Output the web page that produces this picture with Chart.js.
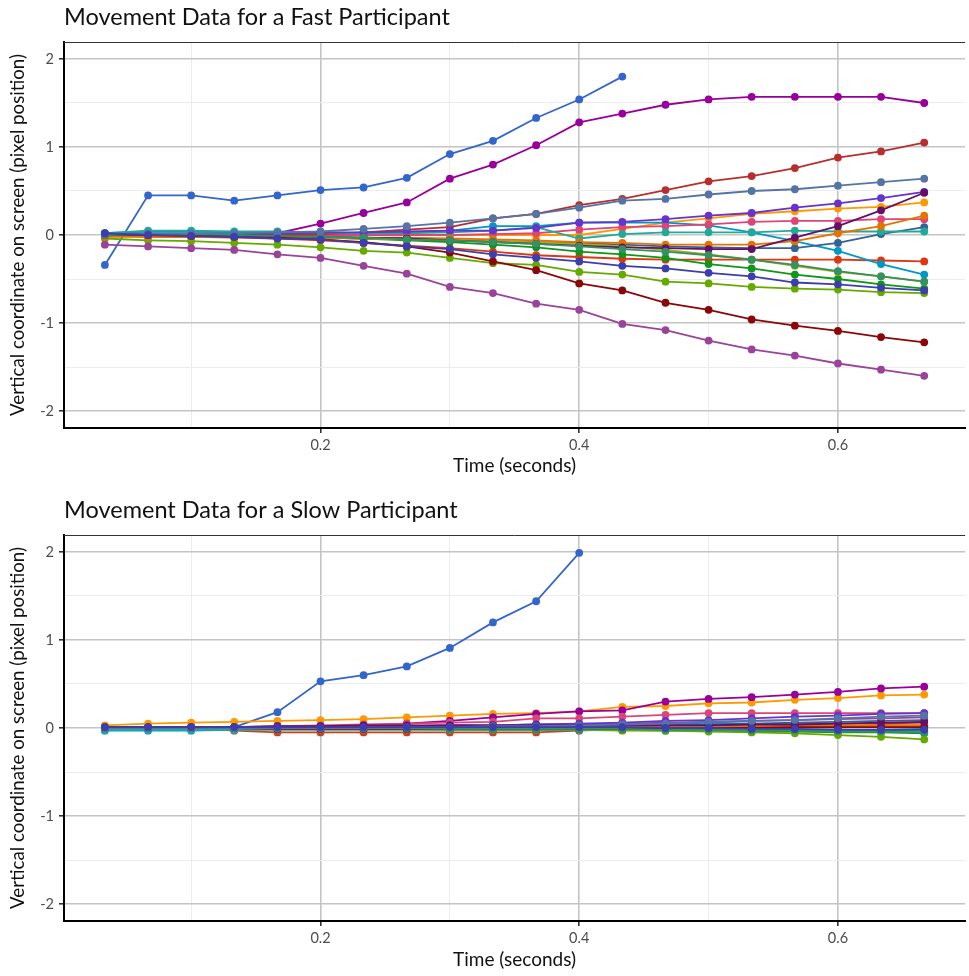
<!DOCTYPE html>
<html>
<head>
<meta charset="utf-8">
<script src="https://cdn.jsdelivr.net/npm/chart.js@4"></script>
<style>
	body { margin: 0; background: #fff; }
	canvas { display: block; }
</style>
</head>
<body>
<canvas id="fastChart" width="969" height="493"></canvas>
<canvas id="slowChart" width="969" height="483"></canvas>
<script>
// time of each frame, seconds (30 fps)
let times = [0.0333, 0.0667, 0.1, 0.1333, 0.1667, 0.2, 0.2333, 0.2667, 0.3, 0.3333,
	0.3667, 0.4, 0.4333, 0.4667, 0.5, 0.5333, 0.5667, 0.6, 0.6333, 0.6667];

let trialColors = ["#3366cc", "#dc3912", "#ff9900", "#109618", "#990099", "#0099c6", "#dd4477",
	"#66aa00", "#b82e2e", "#316395", "#994499", "#22aa99", "#aaaa11", "#6633cc", "#e67300",
	"#8b0707", "#651067", "#329262", "#5574a6", "#3b3eac"];

let xTicks = [0.1, 0.2, 0.3, 0.4, 0.5, 0.6];
let yTicks = [-2, -1.5, -1, -0.5, 0, 0.5, 1, 1.5, 2];

// one row per trial, fast participant
let fastValues = [
	[-0.34, 0.45, 0.45, 0.39, 0.45, 0.51, 0.54, 0.65, 0.92, 1.07, 1.33, 1.54, 1.80],
	[0, -0.02, -0.02, -0.03, -0.04, -0.06, -0.09, -0.12, -0.15, -0.19, -0.23, -0.25, -0.27, -0.28, -0.28, -0.28, -0.28, -0.28, -0.29, -0.30],
	[0.01, 0.01, 0.01, 0.01, 0.01, 0.01, 0, 0, 0, 0, 0, 0, 0.07, 0.14, 0.19, 0.24, 0.27, 0.30, 0.32, 0.37],
	[0, -0.01, -0.01, -0.02, -0.02, -0.03, -0.04, -0.06, -0.08, -0.11, -0.14, -0.19, -0.22, -0.26, -0.33, -0.38, -0.45, -0.50, -0.56, -0.61],
	[0, 0, 0, 0, 0.02, 0.13, 0.25, 0.37, 0.64, 0.80, 1.02, 1.28, 1.38, 1.48, 1.54, 1.57, 1.57, 1.57, 1.57, 1.50],
	[0.02, 0.04, 0.04, 0.03, 0.03, 0.02, 0.02, 0.03, 0.05, 0.10, 0.10, 0.14, 0.14, 0.14, 0.11, 0.03, -0.07, -0.18, -0.33, -0.45],
	[0, 0, 0, 0, 0, 0, 0, 0, 0, 0.01, 0.02, 0.06, 0.09, 0.10, 0.12, 0.15, 0.16, 0.16, 0.18, 0.18],
	[-0.04, -0.06, -0.07, -0.09, -0.11, -0.14, -0.18, -0.20, -0.26, -0.32, -0.34, -0.42, -0.45, -0.53, -0.55, -0.59, -0.61, -0.62, -0.65, -0.66],
	[0, 0, 0, 0, 0.01, 0.01, 0.03, 0.06, 0.09, 0.19, 0.24, 0.34, 0.41, 0.51, 0.61, 0.67, 0.76, 0.88, 0.95, 1.05],
	[0, 0, 0, -0.01, -0.02, -0.03, -0.04, -0.05, -0.06, -0.07, -0.08, -0.09, -0.11, -0.13, -0.14, -0.15, -0.15, -0.09, 0.01, 0.09],
	[-0.11, -0.13, -0.15, -0.17, -0.22, -0.26, -0.35, -0.44, -0.59, -0.66, -0.78, -0.85, -1.01, -1.08, -1.20, -1.30, -1.37, -1.46, -1.53, -1.60],
	[0.02, 0.05, 0.05, 0.04, 0.04, 0.03, 0.02, 0.02, 0.03, 0.05, 0.09, -0.04, 0.01, 0.03, 0.03, 0.03, 0.05, 0.04, 0.04, 0.04],
	[0, -0.01, -0.01, -0.02, -0.02, -0.03, -0.04, -0.05, -0.06, -0.07, -0.08, -0.10, -0.13, -0.17, -0.22, -0.28, -0.35, -0.42, -0.47, -0.53],
	[0, 0.01, 0.01, 0.01, 0.02, 0.03, 0.03, 0.04, 0.05, 0.05, 0.08, 0.14, 0.15, 0.18, 0.22, 0.25, 0.31, 0.36, 0.42, 0.49],
	[-0.02, -0.02, -0.02, -0.02, -0.02, -0.03, -0.03, -0.03, -0.04, -0.05, -0.06, -0.08, -0.09, -0.11, -0.11, -0.11, -0.07, 0.02, 0.10, 0.22],
	[0, 0, -0.01, -0.02, -0.03, -0.05, -0.08, -0.13, -0.20, -0.30, -0.40, -0.55, -0.63, -0.77, -0.85, -0.96, -1.03, -1.09, -1.16, -1.22],
	[0.01, 0.01, 0, 0, -0.01, -0.02, -0.03, -0.04, -0.06, -0.08, -0.10, -0.12, -0.14, -0.15, -0.16, -0.16, -0.03, 0.10, 0.28, 0.48],
	[0, 0.01, 0.01, 0, -0.01, -0.02, -0.03, -0.05, -0.06, -0.08, -0.10, -0.13, -0.16, -0.19, -0.23, -0.28, -0.34, -0.41, -0.47, -0.53],
	[0.01, 0.02, 0.02, 0.02, 0.03, 0.04, 0.07, 0.10, 0.14, 0.19, 0.24, 0.31, 0.39, 0.41, 0.46, 0.50, 0.52, 0.56, 0.60, 0.64],
	[0.02, 0, -0.01, -0.02, -0.04, -0.05, -0.09, -0.13, -0.16, -0.22, -0.26, -0.30, -0.35, -0.38, -0.43, -0.47, -0.54, -0.56, -0.60, -0.63]
];

// slow participant
let slowValues = [
	[0, 0.01, 0.01, 0.01, 0.18, 0.53, 0.60, 0.70, 0.91, 1.20, 1.44, 1.99],
	[0, 0, 0, -0.03, -0.05, -0.05, -0.05, -0.05, -0.05, -0.05, -0.05, -0.03, -0.01, 0, 0.01, 0.01, 0.02, 0.02, 0.03, 0.03],
	[0.03, 0.05, 0.06, 0.07, 0.08, 0.09, 0.10, 0.12, 0.14, 0.16, 0.17, 0.19, 0.24, 0.25, 0.28, 0.29, 0.32, 0.34, 0.37, 0.38],
	[0, 0, 0, 0, 0, -0.01, -0.01, -0.01, -0.01, -0.02, -0.02, -0.02, -0.02, -0.03, -0.03, -0.04, -0.04, -0.05, -0.05, -0.06],
	[0, 0, 0, 0, 0.01, 0.02, 0.03, 0.05, 0.08, 0.12, 0.16, 0.19, 0.20, 0.30, 0.33, 0.35, 0.38, 0.41, 0.45, 0.47],
	[-0.03, -0.03, -0.03, -0.02, -0.01, -0.01, 0, 0, 0, 0, 0, 0.01, 0.02, 0.04, 0.06, 0.05, 0.03, 0.02, 0.01, 0],
	[0, 0, 0.01, 0.01, 0.02, 0.03, 0.04, 0.05, 0.06, 0.07, 0.11, 0.11, 0.13, 0.15, 0.17, 0.17, 0.17, 0.17, 0.17, 0.17],
	[0, 0, 0, 0, -0.01, -0.01, -0.01, -0.01, -0.02, -0.02, -0.02, -0.02, -0.03, -0.03, -0.04, -0.05, -0.06, -0.08, -0.10, -0.13],
	[0, 0, 0, 0, 0, 0, 0, 0.01, 0.01, 0.01, 0.02, 0.02, 0.02, 0.03, 0.03, 0.04, 0.04, 0.05, 0.05, 0.06],
	[0, 0, 0, 0, 0, 0, 0, 0, 0, 0.01, 0.01, 0.01, 0.02, 0.03, 0.04, 0.05, 0.06, 0.07, 0.08, 0.09],
	[0, 0, 0, 0, 0.01, 0.01, 0.02, 0.02, 0.03, 0.03, 0.04, 0.04, 0.05, 0.06, 0.07, 0.08, 0.09, 0.10, 0.11, 0.12],
	[-0.02, -0.02, -0.02, -0.02, -0.02, -0.02, -0.02, -0.02, -0.02, -0.02, -0.02, -0.02, -0.01, -0.01, -0.01, -0.01, -0.02, -0.02, -0.03, -0.04],
	[0, 0, 0, 0, 0, 0, 0, 0, 0, 0, 0, 0, 0, 0, 0.01, 0.01, 0.01, 0.02, 0.02, 0.02],
	[0, 0, 0, 0, 0.01, 0.01, 0.02, 0.02, 0.03, 0.03, 0.04, 0.05, 0.06, 0.08, 0.09, 0.11, 0.13, 0.14, 0.16, 0.17],
	[0.01, 0.01, 0.01, 0.01, 0.01, 0.01, 0.01, 0.01, 0.01, 0.01, 0.01, 0.01, 0.01, 0.02, 0.02, 0.02, 0.02, 0.03, 0.03, 0.03],
	[0, 0, 0, 0, -0.01, -0.01, -0.01, -0.01, -0.01, -0.01, -0.01, -0.01, -0.01, 0, 0, 0, 0.01, 0.01, 0.01, 0.01],
	[0.01, 0.01, 0.01, 0.01, 0.02, 0.02, 0.03, 0.03, 0.03, 0.03, 0.03, 0.03, 0.03, 0.03, 0.03, 0.04, 0.04, 0.05, 0.06, 0.07],
	[0, 0, 0, 0, 0, 0, 0, 0, -0.01, -0.01, -0.01, -0.01, -0.01, -0.02, -0.02, -0.03, -0.03, -0.04, -0.04, -0.05],
	[0, 0, 0, 0, 0, 0, 0, 0.01, 0.01, 0.02, 0.02, 0.03, 0.04, 0.05, 0.07, 0.08, 0.09, 0.11, 0.13, 0.14],
	[0.01, 0.01, 0.01, 0.01, 0.01, 0.01, 0.01, 0.01, 0.01, 0.01, 0.01, 0.01, 0.01, 0, 0, -0.01, -0.01, -0.02, -0.02, -0.02]
];

const fontName = "Lato, 'Noto Sans', sans-serif";

// thin line along the top of the panel
const topBorder = {
	id: "topBorder",
	beforeDatasetsDraw(chart) {
		const c = chart.ctx;
		const a = chart.chartArea;
		c.save();
		c.strokeStyle = "#333";
		c.lineWidth = 1;
		c.beginPath();
		c.moveTo(a.left, a.top + 0.5);
		c.lineTo(a.right, a.top + 0.5);
		c.stroke();
		c.restore();
	}
};

function isMajor(v, step) {
	let r = Math.abs(v / step - Math.round(v / step));
	return r < 1e-6;
}

function makeChart(canvasId, titleText, values, xAxisHeight, xTitlePad) {
	let datasets = values.map((row, i) => ({
		label: "trial " + (i + 1),
		data: row.map((v, j) => ({ x: times[j], y: v })),
		borderColor: trialColors[i],
		backgroundColor: trialColors[i],
		borderWidth: 1.8,
		pointRadius: 3.9,
		pointBorderWidth: 0,
		pointHoverRadius: 3.9,
		fill: false,
		order: values.length - i // later trials on top
	}));

	return new Chart(document.getElementById(canvasId), {
		type: "line",
		data: { datasets: datasets },
		options: {
			responsive: false,
			animation: false,
			events: [],
			layout: { padding: { left: 0, right: 1, top: 0, bottom: 0 } },
			plugins: {
				legend: { display: false },
				tooltip: { enabled: false },
				title: {
					display: true,
					text: titleText,
					align: "start",
					fullSize: false,
					color: "#111",
					font: { family: fontName, size: 23.5, weight: "normal" },
					padding: { top: 3, bottom: 10.8 }
				}
			},
			scales: {
				x: {
					type: "linear",
					min: 0.0017,
					max: 0.6983,
					afterBuildTicks: (scale) => { scale.ticks = xTicks.map((v) => ({ value: v })); },
					afterFit: (scale) => { scale.height = xAxisHeight; },
					ticks: {
						autoSkip: false,
						maxRotation: 0,
						padding: 4,
						color: "#4d4d4d",
						font: { family: fontName, size: 14.5 },
						callback: (v) => (isMajor(v, 0.2) ? v.toFixed(1) : "")
					},
					grid: {
						color: (ctx) => (isMajor(ctx.tick.value, 0.2) ? "#c4c4c4" : "#ececec"),
						lineWidth: (ctx) => (isMajor(ctx.tick.value, 0.2) ? 1.6 : 1),
						tickColor: (ctx) => (isMajor(ctx.tick.value, 0.2) ? "#333" : "rgba(0,0,0,0)"),
						tickLength: 5
					},
					border: { color: "#000", width: 2 },
					title: {
						display: true,
						text: "Time (seconds)",
						color: "#111",
						font: { family: fontName, size: 19 },
						padding: { top: 0, bottom: xTitlePad }
					}
				},
				y: {
					type: "linear",
					min: -2.193,
					max: 2.193,
					afterBuildTicks: (scale) => { scale.ticks = yTicks.map((v) => ({ value: v })); },
					afterFit: (scale) => { scale.width = 64; },
					ticks: {
						padding: 5,
						color: "#4d4d4d",
						font: { family: fontName, size: 14.5 },
						callback: (v) => (isMajor(v, 1) ? String(v) : "")
					},
					grid: {
						color: (ctx) => (isMajor(ctx.tick.value, 1) ? "#c4c4c4" : "#ececec"),
						lineWidth: (ctx) => (isMajor(ctx.tick.value, 1) ? 1.6 : 1),
						tickColor: (ctx) => (isMajor(ctx.tick.value, 1) ? "#333" : "rgba(0,0,0,0)"),
						tickLength: 5
					},
					border: { color: "#000", width: 2 },
					title: {
						display: true,
						text: "Vertical coordinate on screen (pixel position)",
						color: "#111",
						font: { family: fontName, size: 18.7 },
						padding: { top: 6.6, bottom: 0 }
					}
				}
			}
		},
		plugins: [topBorder]
	});
}

makeChart("fastChart", "Movement Data for a Fast Participant", fastValues, 65, 15.6);
makeChart("slowChart", "Movement Data for a Slow Participant", slowValues, 55, 4.6);
</script>
</body>
</html>
